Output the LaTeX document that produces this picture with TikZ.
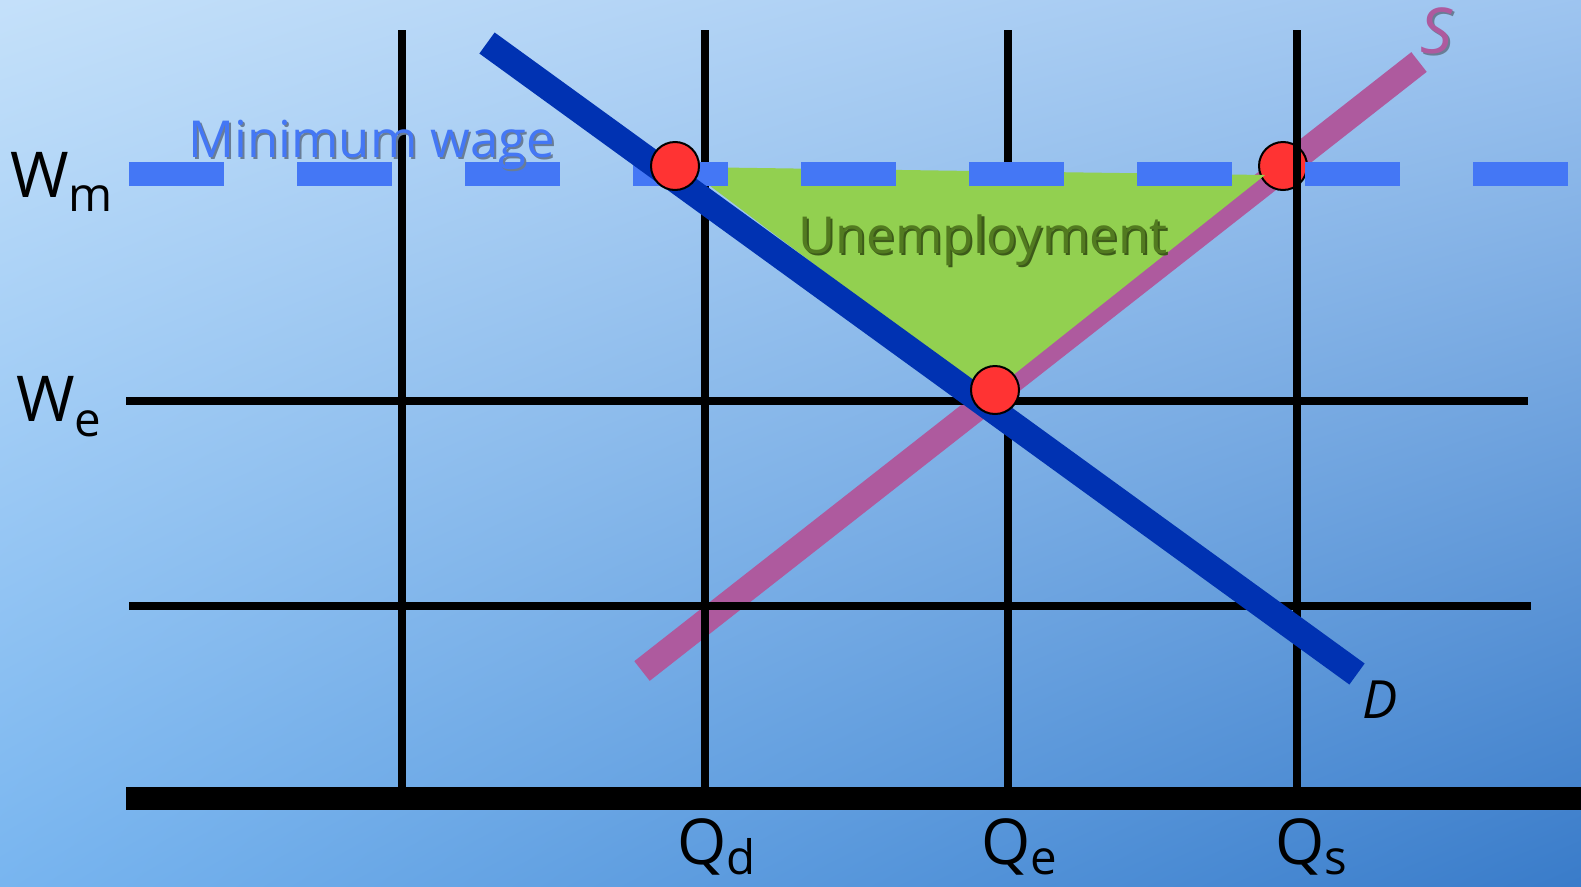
\documentclass[tikz,border=0pt]{standalone}
\usepackage{fontspec}
\setmainfont{Open Sans}
\usepackage{xcolor}
\usepackage{tikz}
\usetikzlibrary{positioning}

\definecolor{wageblue}{RGB}{68,119,245}
\definecolor{demandblue}{RGB}{0,50,178}
\definecolor{supplypink}{RGB}{174,90,158}
\definecolor{gapgreen}{RGB}{146,208,80}
\definecolor{gaptext}{RGB}{82,122,32}
\definecolor{gapshadow}{RGB}{60,90,25}
\definecolor{dotred}{RGB}{255,51,51}
\definecolor{wageshadow}{RGB}{105,125,150}

\newlength{\px}
\setlength{\px}{0.02cm}

\newcommand{\shadowtext}[2]{\leavevmode\rlap{\kern1.2pt\raisebox{-1.2pt}{\color{#1}#2}}#2}
\newcommand{\lowsub}[2]{\raisebox{-#1}{\fontsize{27pt}{27pt}\selectfont #2}}

\pgfdeclarefunctionalshading{backdrop}{\pgfpoint{0bp}{0bp}}{\pgfpoint{100bp}{100bp}}{}{
  25 sub 50 div exch 25 sub 50 div exch
  2 copy mul
  2 index -0.245 mul 2 index 0.300 mul add 1 index 0.092 mul add 0.470 add
  3 index -0.225 mul 3 index 0.170 mul add 2 index 0.115 mul add 0.710 add
  4 index -0.150 mul 4 index 0.040 mul add 3 index 0.110 mul add 0.940 add
  6 3 roll pop pop pop
}

\begin{document}
\begin{tikzpicture}[
    x=\px, y=-\px,
    gridline/.style={draw=black, line width=8\px},
    baseaxis/.style={draw=black, line width=23\px},
    wage/.style={draw=wageblue, line width=24\px, dash pattern=on 95\px off 73\px},
    demand/.style={draw=demandblue, line width=26\px},
    supply/.style={draw=supplypink, line width=25\px},
    dot/.style={circle, fill=dotred, draw=black, line width=2\px, minimum size=48\px, inner sep=0pt},
    axlabel/.style={anchor=base west, inner sep=0pt, font=\fontsize{36pt}{36pt}\selectfont},
    txtlabel/.style={anchor=base west, inner sep=0pt, font=\fontsize{29pt}{29pt}\selectfont}
]
  \shade[shading=backdrop] (0,0) rectangle (1581,886);
  \useasboundingbox (0,0) rectangle (1581,886);

  \draw[supply] (642,671) -- (1419,62);
  \node[dot] (dotS) at (1283,166) {};

  \foreach \gx in {402,705,1008,1297}
    \draw[gridline] (\gx,30) -- (\gx,798);
  \draw[gridline] (126,401) -- (1528,401);
  \draw[gridline] (129,606) -- (1531,606);
  \draw[baseaxis] (126,798) -- (1581,798);

  % unemployment gap
  \fill[gapgreen] (685,167) -- (1265,175) -- (988,395) -- cycle;
  \draw[wage] (129,174) -- (1581,174);
  \draw[demand] (487,43) -- (1357,674);
  \node[dot] (dotD) at (675,166) {};
  \node[dot] (dotE) at (995,390) {};

  \node[axlabel] (labWm) at (10,197) {W\lowsub{8.5pt}{m}};
  \node[axlabel] (labWe) at (16,421) {W\lowsub{9pt}{e}};
  \node[axlabel] (labQd) at (677,864) {Q\lowsub{6pt}{d}};
  \node[axlabel] (labQe) at (981,864) {Q\lowsub{6pt}{e}};
  \node[axlabel] (labQs) at (1275,864) {Q\lowsub{6pt}{s}};
  \node[axlabel, text=supplypink, font=\fontsize{36pt}{36pt}\selectfont\itshape] (labS) at (1420,53) {\shadowtext{wageshadow}{S}};
  \node[axlabel, font=\fontsize{30pt}{30pt}\selectfont\itshape] (labD) at (1362,718) {D};
  \node[txtlabel, text=wageblue] (labMin) at (188,157) {\shadowtext{wageshadow}{Minimum wage}};
  \node[txtlabel, text=gaptext] (labGap) at (798,253) {\shadowtext{gapshadow}{Unemployment}};
\end{tikzpicture}
\end{document}
